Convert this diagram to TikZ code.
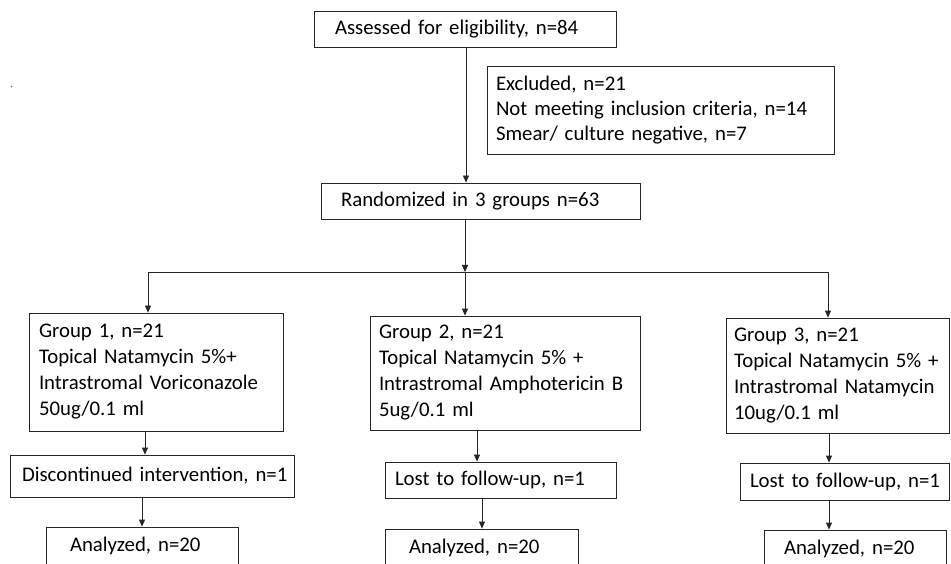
\documentclass[tikz,border=0pt]{standalone}
\usepackage{fontspec}
\setmainfont{Carlito}
\usetikzlibrary{arrows.meta}
\newcommand{\oneline}[1]{\mbox{#1}}
\begin{document}
\begin{tikzpicture}[x=1pt,y=-1pt,
  box/.style={draw=black!85, line width=0.8pt, rectangle, align=left, inner ysep=0pt,
    font=\fontsize{20.8}{26}\selectfont, anchor=center},
  arr/.style={draw=black!85, line width=0.8pt, -{Triangle[length=7pt,width=6pt]}},
  plain/.style={draw=black!85, line width=0.8pt}]
\clip (0,0) rectangle (951,564);
\fill[white] (0,0) rectangle (951,564);
\fill[black!60] (11.5,86.5) circle (0.8);
% top
\node[box, minimum width=302, minimum height=36, inner xsep=21, text width=260] (assess) at (465,29) {\oneline{Assessed for eligibility, n=84}};
\node[box, minimum width=347, minimum height=88, inner xsep=9, text width=329, font=\fontsize{20.8}{25}\selectfont] (excl) at (660.5,110) {\oneline{Excluded, n=21}\\\oneline{Not meeting inclusion criteria, n=14}\\\oneline{Smear/ culture negative, n=7}};
\node[box, minimum width=319, minimum height=36, inner xsep=20, text width=279] (rand) at (480.5,201) {\oneline{Randomized in 3 groups n=63}};
% groups
\node[box, minimum width=254, minimum height=118, inner xsep=10, text width=234] (g1) at (156,372) {\oneline{Group 1, n=21}\\\oneline{Topical Natamycin 5\%+}\\\oneline{Intrastromal Voriconazole}\\\oneline{50ug/0.1 ml}};
\node[box, minimum width=270, minimum height=114, inner xsep=9, text width=252] (g2) at (505,373) {\oneline{Group 2, n=21}\\\oneline{Topical Natamycin 5\% +}\\\oneline{Intrastromal Amphotericin B}\\\oneline{5ug/0.1 ml}};
\node[box, minimum width=223, minimum height=115, inner xsep=8, text width=207] (g3) at (837.5,375.5) {\oneline{Group 3, n=21}\\\oneline{Topical Natamycin 5\% +}\\\oneline{Intrastromal Natamycin}\\\oneline{10ug/0.1 ml}};
% withdrawals
\node[box, minimum width=284, minimum height=42, inner xsep=12, text width=260] (d1) at (152,476) {\oneline{Discontinued intervention, n=1}};
\node[box, minimum width=231, minimum height=36, inner xsep=10, text width=211] (l2) at (500.5,480) {\oneline{Lost to follow-up, n=1}};
\node[box, minimum width=209, minimum height=37, inner xsep=10, text width=189] (l3) at (844.5,481.5) {\oneline{Lost to follow-up, n=1}};
% analysed
\node[box, minimum width=192, minimum height=38, inner xsep=24, text width=144] (a1) at (142,546) {\oneline{Analyzed, n=20}};
\node[box, minimum width=193, minimum height=38, inner xsep=24, text width=145] (a2) at (481.5,548) {\oneline{Analyzed, n=20}};
\node[box, minimum width=182, minimum height=38, inner xsep=20, text width=142] (a3) at (855,549) {\oneline{Analyzed, n=20}};
% connectors
\draw[arr] (assess.south -| 466,0) -- (rand.north -| 466,0);
\coordinate (bus) at (465,272);
\coordinate (busL) at (148,272);
\coordinate (busR) at (828,272);
\draw[arr] (rand.south -| bus) -- (bus);
\draw[plain] (busL) -- (busR);
\draw[arr] (busL) -- (g1.north -| busL);
\draw[arr] (bus) -- (g2.north -| bus);
\draw[arr] (busR) -- (g3.north -| busR);
\draw[arr] (g1.south -| 145,0) -- (d1.north -| 145,0);
\draw[arr] (d1.south -| 142,0) -- (a1.north -| 142,0);
\draw[arr] (g2.south -| 477,0) -- (l2.north -| 477,0);
\draw[arr] (l2.south -| 482,0) -- (a2.north -| 482,0);
\draw[arr] (g3.south -| 829,0) -- (l3.north -| 829,0);
\draw[arr] (l3.south -| 829,0) -- (a3.north -| 829,0);
\end{tikzpicture}
\end{document}
